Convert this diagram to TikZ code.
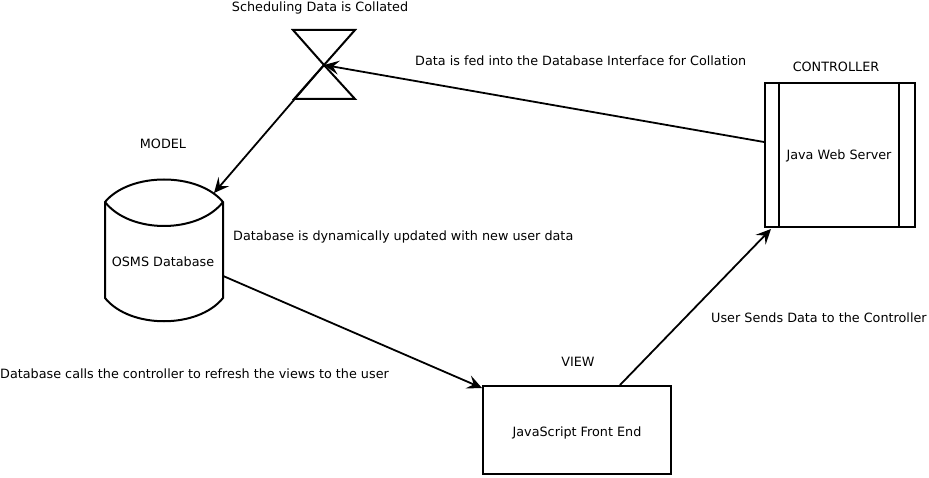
\documentclass[tikz,border=0pt]{standalone}
\usepackage{fontspec}
\setmainfont{DejaVu Sans}
\usetikzlibrary{arrows.meta}
\tikzset{
  box/.style={draw,line width=2pt,minimum width=#1,inner sep=0pt},
  lbl/.style={inner sep=0pt,anchor=base},
  note/.style={inner sep=0pt,anchor=base west},
  conn/.style={line width=1.8pt,-{Stealth[length=15pt,width=14pt,inset=6pt]}}
}
\def\BAR#1{\draw [line width=2pt] (server.north west)++(#1,0) -- ++(0,144);}

\begin{document}
\begin{tikzpicture}[x=1pt,y=-1pt,font=\fontsize{12.78}{16}\selectfont]
\useasboundingbox (0,0) rectangle (929,478);
% controller
\node[box=150pt,minimum height=144pt] (server) at (840,155) {};
\node[lbl] (serverlbl) at (839,160) {Java Web Server};
\BAR{15} \BAR{135}
\node[lbl] (controllerlbl) at (836,72) {CONTROLLER};
% view
\node[box=188pt,minimum height=88pt] (front) at (577,430) {};
\node[lbl] (frontlbl) at (577,436) {JavaScript Front End};
\node[lbl] (viewlbl) at (578,366) {VIEW};
% model
\node[minimum width=118pt,minimum height=119pt,inner sep=0pt] (db) at (164,262) {};
\draw[line width=2pt] (105,202) .. controls (130,172) and (198,172) .. (223,202)
  -- (223,298) .. controls (198,329) and (130,329) .. (105,298) -- cycle;
\draw[line width=2pt] (105,202) .. controls (130,234) and (198,234) .. (223,202);
\node[lbl] (dblbl) at (163,267) {OSMS Database};
\node[lbl] (modellbl) at (163,149) {MODEL};
% collation
\coordinate (merge) at (324,65);
\draw[line width=2pt] (merge) -- (293,30) -- (355,30) -- (294,99) -- (355,99) -- cycle;
\node[lbl] (mergelbl) at (320,12) {Scheduling Data is Collated};
% connectors
\coordinate (dbin) at (214,193);
\draw[conn] (merge) -- (dbin);
\draw[conn] ([yshift=13pt]server.west) -- (merge);
\draw[conn] ([yshift=-14pt]db.east) -- ([yshift=42pt]front.west);
\coordinate (serverin) at (771,229);
\draw[conn] ([xshift=43pt]front.north) -- (serverin);
% notes
\node[note] (n1) at (415,66) {Data is fed into the Database Interface for Collation};
\node[note] (n2) at (233,241) {Database is dynamically updated with new user data};
\node[note] (n3) at (711,323) {User Sends Data to the Controller};
\node[note] (n4) at (0,378) {Database calls the controller to refresh the views to the user};
\end{tikzpicture}
\end{document}
